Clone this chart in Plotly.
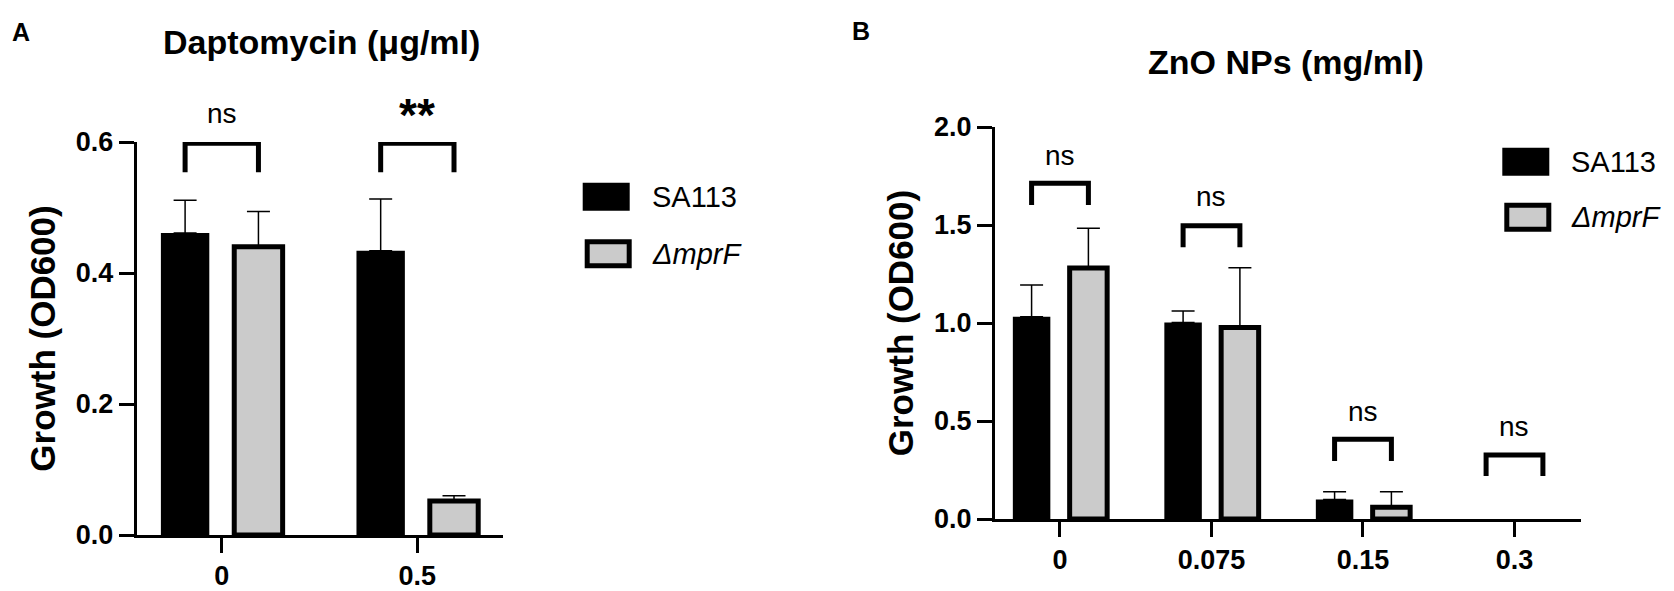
import plotly.graph_objects as go

# ---------------- data ----------------
A_cats = ["0", "0.5"]
A_sa113 = [0.461, 0.434]
A_sa113_err = [0.050, 0.079]
A_mprf = [0.440, 0.052]
A_mprf_err = [0.054, 0.008]
A_sig = ["ns", "**"]
A_bracket_top = [0.598, 0.598]
A_bracket_bottom = [0.554, 0.554]
A_sig_y = [0.644, 0.641]

B_cats = ["0", "0.075", "0.15", "0.3"]
B_sa113 = [1.032, 1.003, 0.100, 0.0]
B_sa113_err = [0.162, 0.058, 0.039, 0.0]
B_mprf = [1.280, 0.977, 0.060, 0.0]
B_mprf_err = [0.203, 0.305, 0.079, 0.0]
B_sig = ["ns", "ns", "ns", "ns"]
B_bracket_top = [1.713, 1.496, 0.407, 0.327]
B_bracket_bottom = [1.602, 1.386, 0.296, 0.219]
B_sig_y = [1.857, 1.644, 0.547, 0.471]

series_names = ["SA113", "<i>Δ</i><i>mprF</i>"]

# ---------------- style ----------------
W, H = 1674, 591
FONT = "Liberation Sans, Arial, Helvetica, sans-serif"
BLACK = "#000000"
GRAY = "#cbcbcb"
BARGAP = 0.25
BARGROUPGAP = 0.34
A_YMAX = 0.6
B_YMAX = 2.0


def px_x(p):
    return p / W


def px_y(p):
    return 1 - p / H


def shown(vals):
    # zero growth -> no visible bar (and no error bar)
    return [v if v > 0 else None for v in vals]


def err_dict(errs):
    return dict(type="data", array=errs, arrayminus=[0] * len(errs), symmetric=False,
                thickness=1.5, width=11.5, color=BLACK)


fig = go.Figure()

fig.add_trace(go.Bar(x=A_cats, y=shown(A_sa113), name="SA113", xaxis="x", yaxis="y",
                     marker=dict(color=BLACK, line=dict(color=BLACK, width=0)),
                     error_y=err_dict(A_sa113_err), showlegend=False))
fig.add_trace(go.Bar(x=A_cats, y=shown(A_mprf), name="ΔmprF", xaxis="x", yaxis="y",
                     marker=dict(color=GRAY, line=dict(color=BLACK, width=5)),
                     error_y=err_dict(A_mprf_err), showlegend=False))
fig.add_trace(go.Bar(x=B_cats, y=shown(B_sa113), name="SA113", xaxis="x2", yaxis="y2",
                     marker=dict(color=BLACK, line=dict(color=BLACK, width=0)),
                     error_y=err_dict(B_sa113_err), showlegend=False))
fig.add_trace(go.Bar(x=B_cats, y=shown(B_mprf), name="ΔmprF", xaxis="x2", yaxis="y2",
                     marker=dict(color=GRAY, line=dict(color=BLACK, width=5)),
                     error_y=err_dict(B_mprf_err), showlegend=False))

axis_common = dict(showline=True, linecolor=BLACK, linewidth=3, ticks="outside",
                   ticklen=15, tickwidth=3, tickcolor=BLACK, showgrid=False,
                   zeroline=False, automargin=False,
                   tickfont=dict(family=FONT, size=27, color=BLACK, weight="bold"))

ytitle = dict(text="<b>Growth (OD600)</b>", font=dict(family=FONT, size=35, color=BLACK), standoff=10)

fig.update_layout(
    template="none",
    width=W, height=H, autosize=False,
    margin=dict(l=0, r=0, t=0, b=0, pad=0),
    paper_bgcolor="white", plot_bgcolor="white",
    barmode="group", bargap=BARGAP, bargroupgap=BARGROUPGAP,
    font=dict(family=FONT, color=BLACK),
    showlegend=False,
    xaxis=dict(domain=[px_x(136.7), px_x(503)], anchor="y", type="category",
               categoryorder="array", categoryarray=A_cats,
               range=[-0.435, 1.438], **axis_common),
    yaxis=dict(domain=[px_y(535), px_y(142)], anchor="x", range=[0, A_YMAX],
               tickvals=[0, 0.2, 0.4, 0.6], tickformat=".1f", title=ytitle, **axis_common),
    xaxis2=dict(domain=[px_x(995), px_x(1581)], anchor="y2", type="category",
                categoryorder="array", categoryarray=B_cats,
                range=[-0.429, 3.439], **axis_common),
    yaxis2=dict(domain=[px_y(519), px_y(127)], anchor="x2", range=[0, B_YMAX],
                tickvals=[0, 0.5, 1.0, 1.5, 2.0], tickformat=".1f", title=ytitle, **axis_common),
)

# bar centre offset within a group (category units), from the bar layout
offset = (1 - BARGAP) / 4

shapes = []
annotations = []


def add_brackets(tops, bottoms, labels, label_y, xref, yref, ymax):
    for i, lab in enumerate(labels):
        x0, x1 = i - offset, i + offset
        shapes.append(dict(type="path", xref=xref, yref=yref,
                           path=f"M {x0},{bottoms[i]} L {x0},{tops[i]} L {x1},{tops[i]} L {x1},{bottoms[i]}",
                           line=dict(color=BLACK, width=5)))
        if lab == "ns":
            txt, fnt = "ns", dict(family=FONT, size=28, color=BLACK)
        else:
            txt, fnt = f"<b>{lab}</b>", dict(family=FONT, size=46, color=BLACK)
        # labels may sit above the axis range -> place them in axis-domain units
        annotations.append(dict(x=i, y=label_y[i] / ymax, xref=xref, yref=yref + " domain", text=txt,
                                showarrow=False, xanchor="center", yanchor="middle", font=fnt))


add_brackets(A_bracket_top, A_bracket_bottom, A_sig, A_sig_y, "x", "y", A_YMAX)
add_brackets(B_bracket_top, B_bracket_bottom, B_sig, B_sig_y, "x2", "y2", B_YMAX)

# panel titles and letters
annotations.append(dict(x=px_x(321), y=px_y(42), xref="paper", yref="paper",
                        text="<b>Daptomycin (μg/ml)</b>", showarrow=False,
                        xanchor="center", yanchor="middle",
                        font=dict(family=FONT, size=34, color=BLACK)))
annotations.append(dict(x=px_x(1286), y=px_y(62), xref="paper", yref="paper",
                        text="<b>ZnO NPs (mg/ml)</b>", showarrow=False,
                        xanchor="center", yanchor="middle",
                        font=dict(family=FONT, size=34, color=BLACK)))
annotations.append(dict(x=px_x(10), y=px_y(32), xref="paper", yref="paper",
                        text="<b>A</b>", showarrow=False, xanchor="left", yanchor="middle",
                        font=dict(family=FONT, size=25, color=BLACK)))
annotations.append(dict(x=px_x(850), y=px_y(31), xref="paper", yref="paper",
                        text="<b>B</b>", showarrow=False, xanchor="left", yanchor="middle",
                        font=dict(family=FONT, size=25, color=BLACK)))


# manual legends (swatch + label), one per panel
def add_legend(x_left, y_first, y_second):
    shapes.append(dict(type="rect", xref="paper", yref="paper",
                       x0=px_x(x_left), x1=px_x(x_left + 47),
                       y0=px_y(y_first + 14), y1=px_y(y_first - 14),
                       fillcolor=BLACK, line=dict(width=0)))
    shapes.append(dict(type="rect", xref="paper", yref="paper",
                       x0=px_x(x_left + 4.5), x1=px_x(x_left + 46.5),
                       y0=px_y(y_second + 12), y1=px_y(y_second - 12),
                       fillcolor=GRAY, line=dict(color=BLACK, width=5)))
    annotations.append(dict(x=px_x(x_left + 67), y=px_y(y_first), xref="paper", yref="paper",
                            text=series_names[0], showarrow=False, xanchor="left", yanchor="middle",
                            font=dict(family=FONT, size=29, color=BLACK)))
    annotations.append(dict(x=px_x(x_left + 67), y=px_y(y_second), xref="paper", yref="paper",
                            text=series_names[1], showarrow=False, xanchor="left", yanchor="middle",
                            font=dict(family=FONT, size=29, color=BLACK)))


add_legend(582.7, 196.8, 253.8)
add_legend(1502.3, 161.7, 217.2)

fig.update_layout(shapes=shapes, annotations=annotations)
fig.write_html("out.html",
               config={"displayModeBar": False, "staticPlot": True},
               post_script="document.body.style.margin='0';document.body.style.overflow='hidden';")
